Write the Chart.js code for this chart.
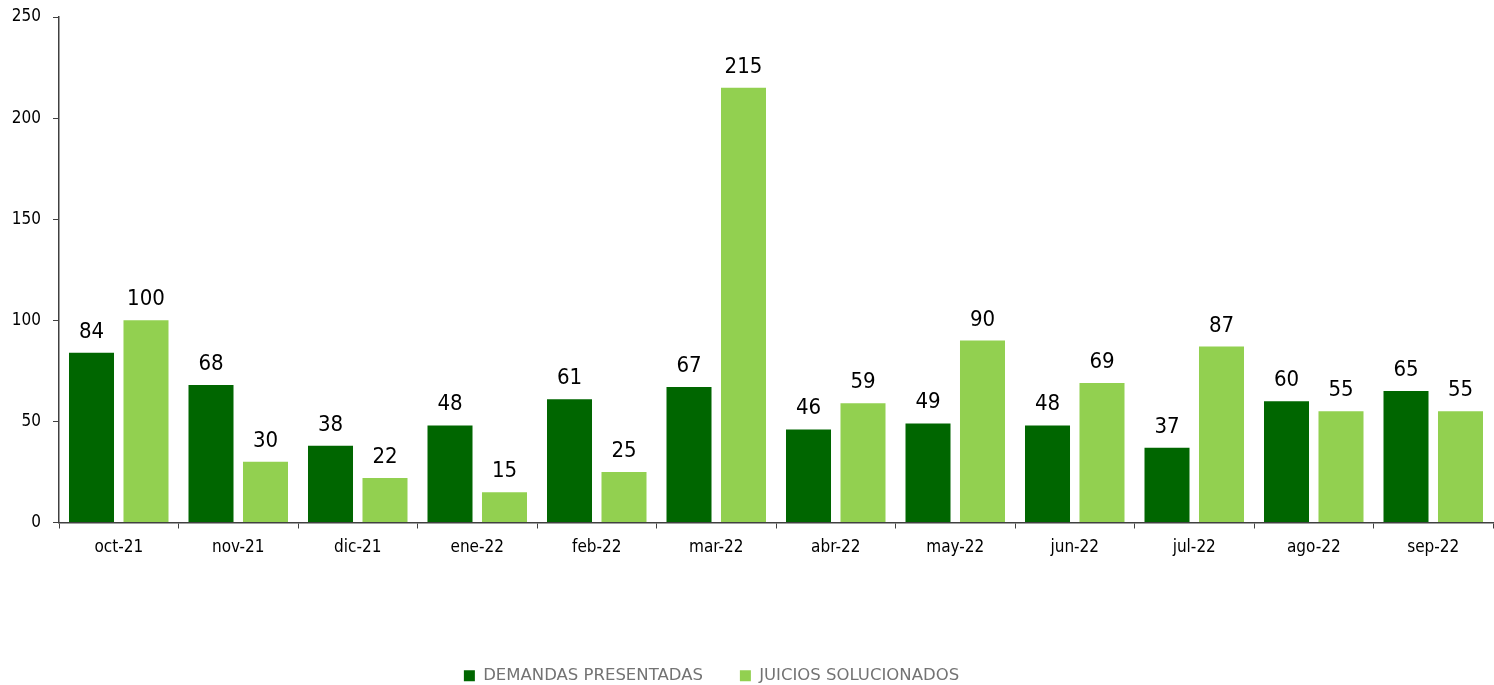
<!DOCTYPE html>
<html>
<head>
<meta charset="utf-8">
<script src="https://cdn.jsdelivr.net/npm/chart.js@4"></script>
<style>
  html, body { margin: 0; padding: 0; background: #fff; }
  #wrap { width: 1494px; height: 685px; }
</style>
</head>
<body>
<div id="wrap"><canvas id="chart" width="1494" height="685"></canvas></div>
<script>
// meses
const meses = ['oct-21', 'nov-21', 'dic-21', 'ene-22', 'feb-22', 'mar-22',
               'abr-22', 'may-22', 'jun-22', 'jul-22', 'ago-22', 'sep-22'];

// series
const demandasPresentadas = [84, 68, 38, 48, 61, 67, 46, 49, 48, 37, 60, 65];
const juiciosSolucionados = [100, 30, 22, 15, 25, 215, 59, 90, 69, 87, 55, 55];

const fuente = "'DejaVu Sans Condensed', 'DejaVu Sans', sans-serif";
const fuenteLeyenda = "'DejaVu Sans', sans-serif";

// etiquetas de valor encima de cada barra
const etiquetasPlugin = {
    id: 'etiquetas',
    afterDatasetsDraw(chart) {
        const ctx = chart.ctx;
        ctx.save();
        ctx.font = '22px ' + fuente;
        ctx.fillStyle = '#000';
        ctx.textAlign = 'center';
        ctx.textBaseline = 'alphabetic';
        chart.data.datasets.forEach((ds, i) => {
            chart.getDatasetMeta(i).data.forEach((bar, j) => {
                ctx.fillText(ds.data[j], bar.x, bar.y - 15);
            });
        });
        ctx.restore();
    }
};

// la leyenda va un poco a la izquierda del centro
const moverLeyenda = {
    id: 'moverLeyenda',
    beforeDraw(chart) {
        const legend = chart.legend;
        if (!legend || legend._movida) return;
        const original = legend.draw;
        legend.draw = function () {
            chart.ctx.save();
            chart.ctx.translate(-35, 0);
            original.apply(this, arguments);
            chart.ctx.restore();
        };
        legend._movida = true;
    }
};

new Chart(document.getElementById('chart'), {
    type: 'bar',
    data: {
        labels: meses,
        datasets: [{
            label: 'DEMANDAS PRESENTADAS',
            data: demandasPresentadas,
            backgroundColor: '#006600'
        }, {
            label: 'JUICIOS SOLUCIONADOS',
            data: juiciosSolucionados,
            backgroundColor: '#92D050'
        }]
    },
    options: {
        responsive: false,
        animation: false,
        categoryPercentage: 0.912,
        barPercentage: 0.826,
        layout: { padding: { top: 17, right: 1, left: 0, bottom: -9 } },
        plugins: {
            legend: {
                position: 'bottom',
                labels: {
                    boxWidth: 11,
                    boxHeight: 11,
                    padding: 37,
                    color: '#737373',
                    font: { family: fuenteLeyenda, size: 16.5 }
                }
            },
            tooltip: { enabled: false }
        },
        scales: {
            x: {
                grid: {
                    offset: true,
                    drawOnChartArea: false,
                    tickLength: 6,
                    color: '#404040'
                },
                border: { color: '#404040', width: 1.5 },
                ticks: {
                    color: '#000',
                    padding: 9,
                    font: { family: fuente, size: 17 }
                },
                afterFit(scale) { scale.height = 108; }
            },
            y: {
                min: 0,
                max: 250,
                ticks: {
                    stepSize: 50,
                    color: '#000',
                    padding: 12,
                    font: { family: fuente, size: 17 }
                },
                grid: {
                    drawOnChartArea: false,
                    tickLength: 6,
                    color: '#404040'
                },
                border: { color: '#404040', width: 1.5 },
                afterFit(scale) {
                    scale.width = 59;
                    scale.paddingTop = 0;
                    scale.paddingBottom = 0;
                }
            }
        }
    },
    plugins: [etiquetasPlugin, moverLeyenda]
});
</script>
</body>
</html>
